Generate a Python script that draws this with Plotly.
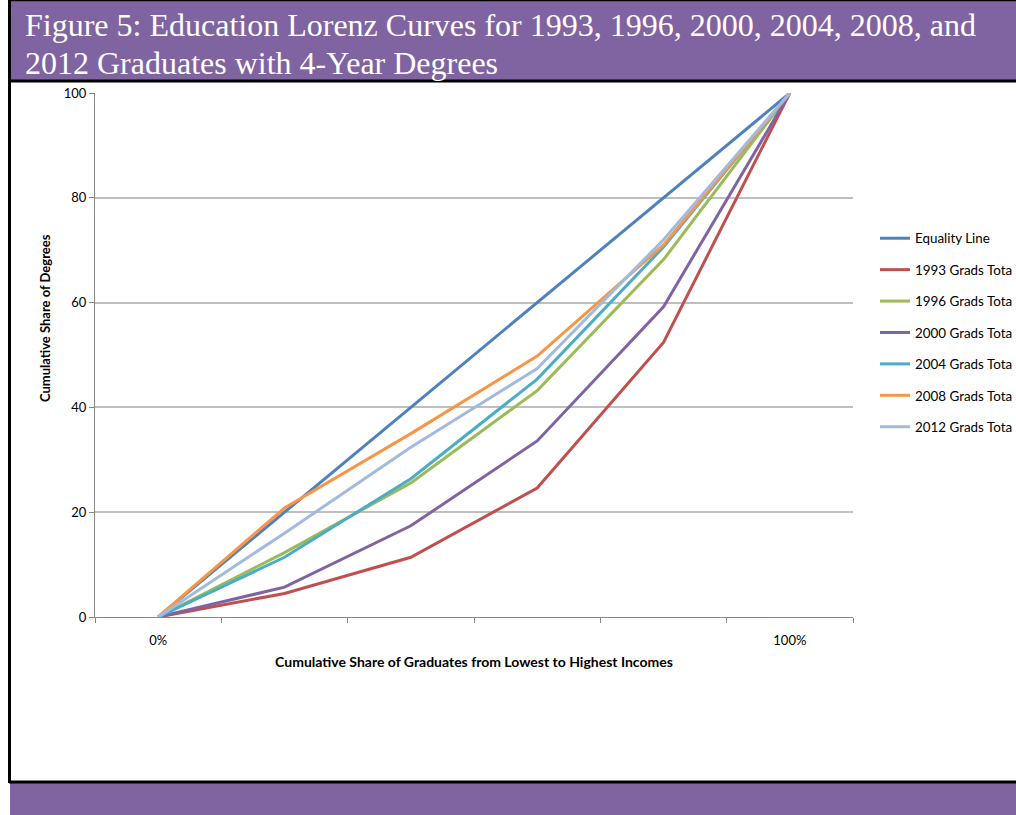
import plotly.graph_objects as go

# Cumulative share of graduates (lowest to highest income), in percent
shares = [0, 20, 40, 60, 80, 100]

equality = [0, 20, 40, 60, 80, 100]
grads_1993 = [0, 4.5, 11.4, 24.6, 52.4, 100]
grads_1996 = [0, 12.3, 25.6, 43.2, 68.2, 100]
grads_2000 = [0, 5.7, 17.4, 33.6, 59.2, 100]
grads_2004 = [0, 11.4, 26.4, 45.4, 70.6, 100]
grads_2008 = [0, 20.8, 35.0, 49.8, 71.0, 100]
grads_2012 = [0, 16.0, 32.4, 47.4, 72.0, 100]

series = [
    ("Equality Line", equality, "#4F81BD"),
    ("1993 Grads Tota", grads_1993, "#C0504D"),
    ("1996 Grads Tota", grads_1996, "#9BBB59"),
    ("2000 Grads Tota", grads_2000, "#8064A2"),
    ("2004 Grads Tota", grads_2004, "#4BACC6"),
    ("2008 Grads Tota", grads_2008, "#F79646"),
    ("2012 Grads Tota", grads_2012, "#A3BADC"),
]

y_ticks = [0, 20, 40, 60, 80, 100]
x_label_vals = [0, 100]
x_label_text = ["0%", "100%"]
x_tick_marks = [-10, 10, 30, 50, 70, 90, 110]

W, H = 1016, 815
L, R, T, B = 95, 853, 93, 617
PURPLE = "#8064A2"
FONT = "Lato, 'Open Sans', sans-serif"
SERIF = "'Liberation Serif', 'Times New Roman', serif"


def px(xp):
    return (xp - L) / (R - L)


def py(yp):
    return (B - yp) / (B - T)


fig = go.Figure()
for i, (name, vals, color) in enumerate(series):
    fig.add_trace(go.Scatter(
        x=shares, y=vals, mode="lines", name=name,
        line=dict(color=color, width=3),
        legendgroup=str(i),
    ))

# invisible trace carrying the percentage labels on a second x axis
fig.add_trace(go.Scatter(x=[0, 100], y=[None, None], xaxis="x2",
                         showlegend=False, hoverinfo="skip"))

shapes = [
    # header banner
    dict(type="rect", xref="paper", yref="paper", x0=px(9), x1=px(1020),
         y0=py(80), y1=py(-2), fillcolor=PURPLE, line=dict(width=0), layer="below"),
    dict(type="line", xref="paper", yref="paper", x0=px(9), x1=px(1020),
         y0=py(0.5), y1=py(0.5), line=dict(color="black", width=1.5)),
    dict(type="line", xref="paper", yref="paper", x0=px(9), x1=px(1020),
         y0=py(81), y1=py(81), line=dict(color="black", width=3)),
    # footer banner
    dict(type="rect", xref="paper", yref="paper", x0=px(10), x1=px(1020),
         y0=py(817), y1=py(783), fillcolor=PURPLE, line=dict(width=0), layer="below"),
    dict(type="line", xref="paper", yref="paper", x0=px(9), x1=px(1020),
         y0=py(782), y1=py(782), line=dict(color="black", width=3)),
    # left frame edge
    dict(type="line", xref="paper", yref="paper", x0=px(9.5), x1=px(9.5),
         y0=py(0), y1=py(783), line=dict(color="black", width=3)),
]

annotations = [
    dict(xref="paper", yref="paper", x=px(23), y=py(4.5), xanchor="left", yanchor="top",
         showarrow=False,
         text="Figure 5: Education Lorenz Curves for 1993, 1996, 2000, 2004, 2008, and",
         font=dict(family=SERIF, size=32, color="white")),
    dict(xref="paper", yref="paper", x=px(23), y=py(43), xanchor="left", yanchor="top",
         showarrow=False,
         text="2012 Graduates with 4-Year Degrees",
         font=dict(family=SERIF, size=32, color="white")),
    dict(xref="paper", yref="paper", x=px(45), y=py(318), xanchor="center", yanchor="middle",
         showarrow=False, textangle=-90, text="<b>Cumulative Share of Degrees</b>",
         font=dict(family=FONT, size=13, color="black")),
]

fig.update_layout(
    width=W, height=H,
    margin=dict(l=L, r=W - R, t=T, b=H - B, pad=0),
    paper_bgcolor="white", plot_bgcolor="white",
    shapes=shapes, annotations=annotations,
    showlegend=True,
    legend=dict(xref="container", yref="container", x=875 / W, y=1 - 223 / H,
                xanchor="left", yanchor="top",
                font=dict(family=FONT, size=13.4, color="black"),
                tracegroupgap=11, bgcolor="rgba(0,0,0,0)"),
    xaxis=dict(range=[-10, 110], tickvals=x_tick_marks, ticktext=[""] * len(x_tick_marks),
               ticks="outside", ticklen=5, tickcolor="#878787", showline=True,
               linecolor="#878787", linewidth=1, showgrid=False, zeroline=False,
               title=dict(text="<b>Cumulative Share of Graduates from Lowest to Highest Incomes</b>",
                          font=dict(family=FONT, size=14, color="black"), standoff=32)),
    xaxis2=dict(range=[-10, 110], overlaying="x", side="bottom", tickvals=x_label_vals,
                ticktext=x_label_text, ticks="outside", ticklen=11,
                tickcolor="rgba(0,0,0,0)", showline=False, showgrid=False,
                zeroline=False, tickfont=dict(family=FONT, size=13, color="black")),
    yaxis=dict(range=[0, 100], tickvals=y_ticks, ticks="outside", ticklen=5,
               tickcolor="#878787", showline=True, linecolor="#878787", linewidth=1,
               showgrid=True, gridcolor="#BFBFBF", gridwidth=1.5, zeroline=False,
               tickfont=dict(family=FONT, size=13, color="black")),
)

fig.write_html("out.html")
